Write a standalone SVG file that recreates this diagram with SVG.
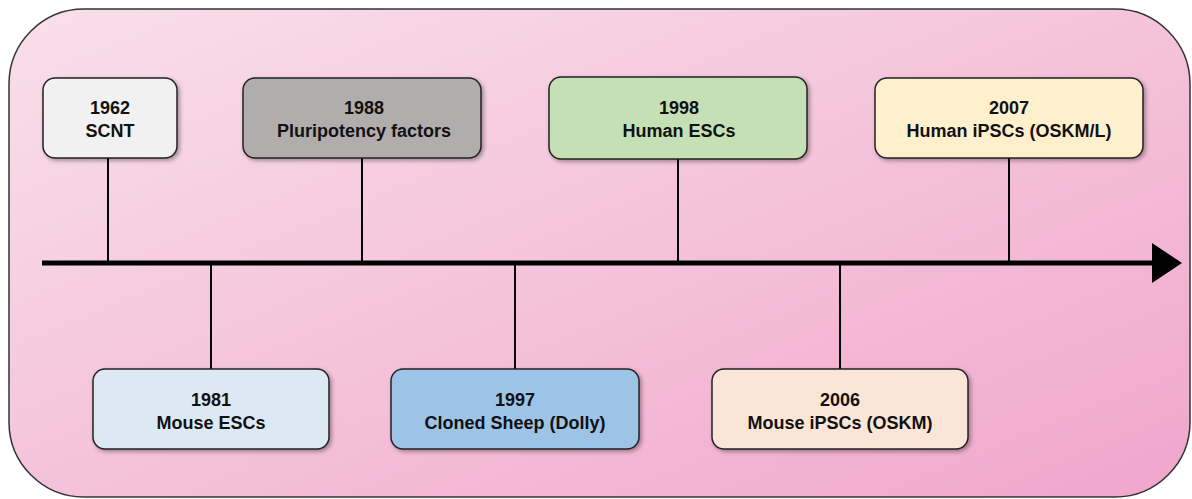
<svg xmlns="http://www.w3.org/2000/svg" width="1192" height="499" viewBox="0 0 1192 499">
  <defs>
    <linearGradient id="bg" x1="0" y1="0" x2="1" y2="1">
      <stop offset="0" stop-color="#f9e0ea"/>
      <stop offset="1" stop-color="#f0a6cb"/>
    </linearGradient>
    <filter id="sh" x="-10%" y="-20%" width="130%" height="150%">
      <feDropShadow dx="2" dy="2" stdDeviation="2" flood-color="#000" flood-opacity="0.35"/>
    </filter>
  </defs>
  <style>
    .box { stroke: #222; stroke-width: 1.5; filter: url(#sh); }
    .t { font-family: "Liberation Sans", Arial, sans-serif; font-weight: bold; font-size: 18px; fill: #111; text-anchor: middle; }
    .c { stroke: #000; stroke-width: 2; fill: none; }
  </style>
  <rect x="9" y="9" width="1181" height="488" rx="75" ry="75" fill="url(#bg)" stroke="#333" stroke-width="1.5"/>

  <g id="connectors">
    <line class="c" x1="108" y1="158" x2="108" y2="263"/>
    <line class="c" x1="211" y1="263" x2="211" y2="369"/>
    <line class="c" x1="362" y1="158" x2="362" y2="263"/>
    <line class="c" x1="515" y1="263" x2="515" y2="369"/>
    <line class="c" x1="678" y1="159" x2="678" y2="263"/>
    <line class="c" x1="840" y1="263" x2="840" y2="369"/>
    <line class="c" x1="1009" y1="158" x2="1009" y2="263"/>
    <line x1="42" y1="263" x2="1152" y2="263" stroke="#000" stroke-width="5"/>
    <path d="M1152,243 L1182,263 L1152,283 Z" fill="#000"/>
  </g>

  <g id="n1962">
    <rect class="box" x="43" y="78" width="134" height="80" rx="12" fill="#f1f1f1"/>
    <text class="t" x="110" y="114">1962</text>
    <text class="t" x="110" y="137">SCNT</text>
  </g>
  <g id="n1988">
    <rect class="box" x="243" y="78" width="238" height="80" rx="12" fill="#b1adad"/>
    <text class="t" x="364" y="114">1988</text>
    <text class="t" x="364" y="137">Pluripotency factors</text>
  </g>
  <g id="n1998">
    <rect class="box" x="549" y="77" width="258" height="82" rx="12" fill="#c6e0b5"/>
    <text class="t" x="679" y="114">1998</text>
    <text class="t" x="679" y="137">Human ESCs</text>
  </g>
  <g id="n2007">
    <rect class="box" x="875" y="78" width="268" height="80" rx="12" fill="#fff0cd"/>
    <text class="t" x="1009" y="114">2007</text>
    <text class="t" x="1009" y="137">Human iPSCs (OSKM/L)</text>
  </g>
  <g id="n1981">
    <rect class="box" x="93" y="369" width="236" height="80" rx="12" fill="#dde8f5"/>
    <text class="t" x="211" y="406">1981</text>
    <text class="t" x="211" y="429">Mouse ESCs</text>
  </g>
  <g id="n1997">
    <rect class="box" x="391" y="369" width="248" height="80" rx="12" fill="#9dc3e6"/>
    <text class="t" x="515" y="406">1997</text>
    <text class="t" x="515" y="429">Cloned Sheep (Dolly)</text>
  </g>
  <g id="n2006">
    <rect class="box" x="712" y="369" width="256" height="80" rx="12" fill="#fbe5d6"/>
    <text class="t" x="840" y="406">2006</text>
    <text class="t" x="840" y="429">Mouse iPSCs (OSKM)</text>
  </g>
</svg>
